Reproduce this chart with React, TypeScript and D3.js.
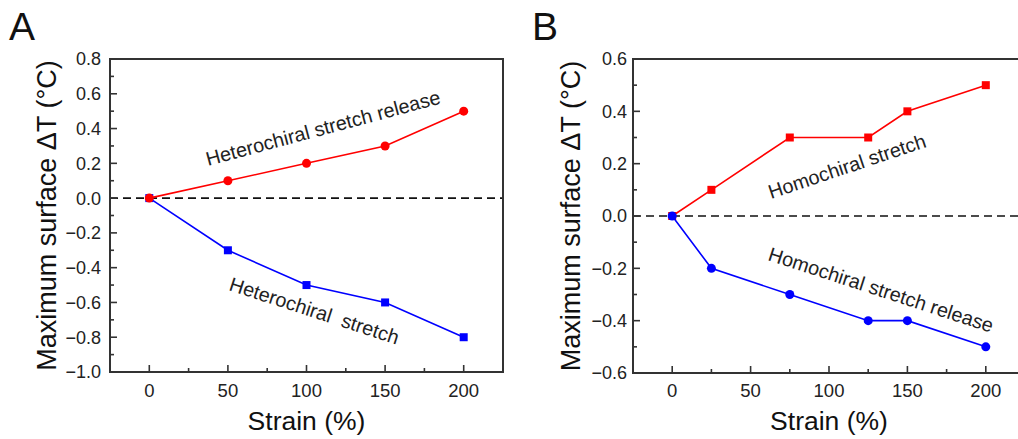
import React from "react";
import * as d3 from "d3";

const strainA = [0, 50, 100, 150, 200];
const releaseA = [0, 0.1, 0.2, 0.3, 0.5];
const stretchA = [0, -0.3, -0.5, -0.6, -0.8];

const strainB = [0, 25, 75, 125, 150, 200];
const stretchB = [0, 0.1, 0.3, 0.3, 0.4, 0.5];
const releaseB = [0, -0.2, -0.3, -0.4, -0.4, -0.5];

const xMajor = [0, 50, 100, 150, 200];
const xMinor = [-25, 25, 75, 125, 175, 225];
const yMajorA = [0.8, 0.6, 0.4, 0.2, 0, -0.2, -0.4, -0.6, -0.8, -1.0];
const yMajorB = [0.6, 0.4, 0.2, 0, -0.2, -0.4, -0.6];

const annA = [
  { text: "Heterochiral stretch release", x: 37.3, y: 0.185, angle: -15 },
  { text: "Heterochiral\u00a0\u00a0stretch", x: 50.1, y: -0.528, angle: 18 },
];
const annB = [
  { text: "Homochiral stretch", x: 63, y: 0.065, angle: -18.5 },
  { text: "Homochiral stretch release", x: 60.5, y: -0.168, angle: 18 },
];

const FONT = "'Liberation Sans', Arial, Helvetica, sans-serif";
const RED = "#ff0000";
const BLUE = "#0000ff";
const FRAME = "#333";
const TXT = "#222";

type Ann = { text: string; x: number; y: number; angle: number };

function Panel(props: {
  letter: string;
  letterX: number;
  x: d3.ScaleLinear<number, number>;
  y: d3.ScaleLinear<number, number>;
  yMajor: number[];
  labelOffset: number;
  titleX: number;
  series: { xs: number[]; ys: number[]; color: string; shape: "circle" | "square" }[];
  anns: Ann[];
}) {
  const { x, y } = props;
  const [x0, x1] = x.range();
  const [yb, yt] = y.range();
  const yd = y.domain();
  const yMinor: number[] = [];
  for (let v = Math.round(yd[0] * 10); v <= Math.round(yd[1] * 10); v++) {
    if (Math.abs(v) % 2 === 1) yMinor.push(v / 10);
  }
  const line = d3
    .line<[number, number]>()
    .x((d) => x(d[0]))
    .y((d) => y(d[1]));
  const fmt = d3.format(".1f");
  return (
    <g>
      <text x={props.letterX} y={40} fontSize={39} fontFamily={FONT} fill="#111">
        {props.letter}
      </text>
      <line x1={x0} x2={x1} y1={y(0)} y2={y(0)} stroke="#111" strokeWidth={1.6} strokeDasharray="8,5" />
      {props.series.map((s, i) => (
        <g key={i}>
          <path
            d={line(s.xs.map((v, j) => [v, s.ys[j]] as [number, number])) || ""}
            fill="none"
            stroke={s.color}
            strokeWidth={1.6}
          />
          {s.xs.map((v, j) =>
            s.shape === "circle" ? (
              <circle key={j} cx={x(v)} cy={y(s.ys[j])} r={4.5} fill={s.color} />
            ) : (
              <rect key={j} x={x(v) - 4} y={y(s.ys[j]) - 4} width={8} height={8} fill={s.color} />
            )
          )}
        </g>
      ))}
      <rect x={x0} y={yt} width={x1 - x0} height={yb - yt} fill="none" stroke={FRAME} strokeWidth={2} />
      {xMajor.map((v) => (
        <g key={"xm" + v}>
          <line x1={x(v)} x2={x(v)} y1={yb} y2={yb - 7} stroke={FRAME} strokeWidth={1.6} />
          <text x={x(v)} y={397} textAnchor="middle" fontSize={18.5} fontFamily={FONT} fill={TXT}>
            {v}
          </text>
        </g>
      ))}
      {xMinor.map((v) => (
        <line key={"xn" + v} x1={x(v)} x2={x(v)} y1={yb} y2={yb - 4} stroke={FRAME} strokeWidth={1.6} />
      ))}
      {props.yMajor.map((v) => (
        <g key={"ym" + v}>
          <line x1={x0} x2={x0 + 7} y1={y(v)} y2={y(v)} stroke={FRAME} strokeWidth={1.6} />
          <text
            x={x0 - props.labelOffset}
            y={y(v)}
            dy="0.36em"
            textAnchor="end"
            fontSize={18}
            fontFamily={FONT}
            fill={TXT}
          >
            {fmt(v)}
          </text>
        </g>
      ))}
      {yMinor.map((v) => (
        <line key={"yn" + v} x1={x0} x2={x0 + 4} y1={y(v)} y2={y(v)} stroke={FRAME} strokeWidth={1.6} />
      ))}
      <text x={x(100)} y={430} textAnchor="middle" fontSize={26.5} fontFamily={FONT} fill="#111">
        Strain (%)
      </text>
      <text
        transform={`translate(${props.titleX},${(yb + yt) / 2}) rotate(-90)`}
        textAnchor="middle"
        fontSize={27}
        fontFamily={FONT}
        fill="#111"
      >
        Maximum surface ΔT (°C)
      </text>
      {props.anns.map((a, i) => (
        <text
          key={i}
          transform={`translate(${x(a.x)},${y(a.y)}) rotate(${a.angle})`}
          fontSize={19.8}
          fontFamily={FONT}
          fill={TXT}
        >
          {a.text}
        </text>
      ))}
    </g>
  );
}

export default function App() {
  const xA = d3.scaleLinear().domain([-25, 225]).range([110, 503]);
  const yA = d3.scaleLinear().domain([-1, 0.8]).range([372, 59]);
  const xB = d3.scaleLinear().domain([-25, 225]).range([633, 1025]);
  const yB = d3.scaleLinear().domain([-0.6, 0.6]).range([373, 59]);
  return (
    <svg
      width={1018}
      height={439}
      style={{ position: "absolute", left: 0, top: 0, background: "#fff" }}
    >
      <rect width={1018} height={439} fill="#fff" />
      <Panel
        letter="A"
        letterX={9}
        x={xA}
        y={yA}
        yMajor={yMajorA}
        labelOffset={9}
        titleX={56}
        series={[
          { xs: strainA, ys: stretchA, color: BLUE, shape: "square" },
          { xs: strainA, ys: releaseA, color: RED, shape: "circle" },
        ]}
        anns={annA}
      />
      <Panel
        letter="B"
        letterX={532}
        x={xB}
        y={yB}
        yMajor={yMajorB}
        labelOffset={6}
        titleX={580}
        series={[
          { xs: strainB, ys: stretchB, color: RED, shape: "square" },
          { xs: strainB, ys: releaseB, color: BLUE, shape: "circle" },
        ]}
        anns={annB}
      />
    </svg>
  );
}
